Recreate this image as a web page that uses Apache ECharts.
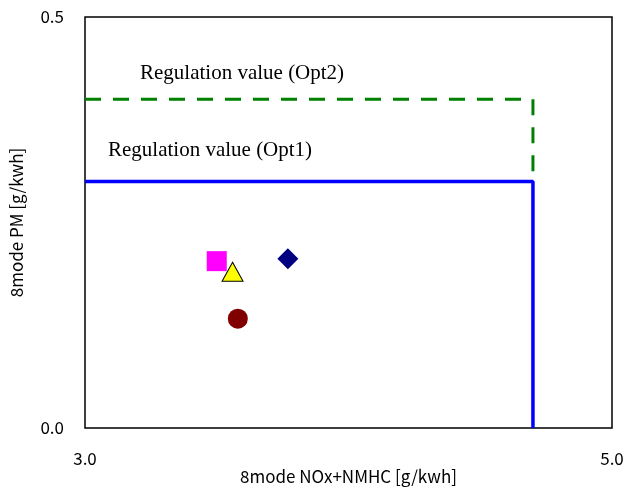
<!DOCTYPE html>
<html>
<head>
<meta charset="utf-8">
<script src="https://cdn.jsdelivr.net/npm/echarts@6/dist/echarts.min.js"></script>
<style>
  html, body { margin: 0; padding: 0; background: #fff; }
  #chart { width: 623px; height: 488px; }
</style>
</head>
<body>
<div id="chart"></div>
<script>
// --- data ---
const xTicks = [3.0, 5.0];
const yTicks = [0.0, 0.5];

// regulation limits (NOx+NMHC, PM)
const opt1Line = [[3.0, 0.30], [4.7, 0.30], [4.7, 0.0]];
const opt2Line = [[3.0, 0.40], [4.7, 0.40], [4.7, 0.30]];

// measured points
const squarePts = [[3.50, 0.203]];
const trianglePts = [[3.56, 0.190]];
const diamondPts = [[3.77, 0.206]];
const circlePts = [[3.58, 0.133]];

const axisFont = '"Noto Sans CJK JP", "DejaVu Sans", sans-serif';
const serifFont = '"Liberation Serif", "DejaVu Serif", serif';

let chart = echarts.init(document.getElementById('chart'), null, { renderer: 'canvas' });

let option = {
    animation: false,
    backgroundColor: '#fff',
    grid: {
        left: 85, right: 11, top: 17, bottom: 60,
        outerBoundsMode: 'none',
        show: true, borderColor: '#000', borderWidth: 1.5, backgroundColor: 'transparent'
    },
    xAxis: {
        type: 'value', min: 3, max: 5,
        name: '8mode NOx+NMHC [g/kwh]', nameLocation: 'middle', nameGap: 40,
        nameMoveOverlap: false,
        nameTextStyle: { color: '#000', fontSize: 17, fontFamily: axisFont },
        axisLine: { show: false }, axisTick: { show: false }, splitLine: { show: false },
        axisLabel: {
            customValues: xTicks, margin: 22, color: '#000', fontSize: 17, fontFamily: axisFont,
            formatter: v => v.toFixed(1)
        }
    },
    yAxis: {
        type: 'value', min: 0, max: 0.5, interval: 0.5,
        name: '8mode PM [g/kwh]', nameLocation: 'middle', nameGap: 60,
        nameMoveOverlap: false,
        nameTextStyle: { color: '#000', fontSize: 17, fontFamily: axisFont },
        axisLine: { show: false }, axisTick: { show: false }, splitLine: { show: false },
        axisLabel: {
            customValues: yTicks, margin: 21, color: '#000', fontSize: 17, fontFamily: axisFont,
            formatter: v => v.toFixed(1)
        }
    },
    series: [
        {
            type: 'line', data: opt2Line, symbol: 'none', z: 3,
            lineStyle: { color: '#008000', width: 3, type: [16, 12] }
        },
        {
            type: 'line', data: opt1Line, symbol: 'none', z: 4,
            lineStyle: { color: '#0000FF', width: 3.5 }
        },
        {
            type: 'scatter', data: squarePts, symbol: 'rect', symbolSize: 20, z: 5,
            itemStyle: { color: '#FF00FF', opacity: 1 }
        },
        {
            type: 'scatter', data: trianglePts, symbol: 'triangle', symbolSize: [21, 19], z: 6,
            itemStyle: { color: '#FFFF00', borderColor: '#000', borderWidth: 1, opacity: 1 }
        },
        {
            type: 'scatter', data: diamondPts, symbol: 'diamond', symbolSize: [21, 21], z: 5,
            itemStyle: { color: '#000080', opacity: 1 }
        },
        {
            type: 'scatter', data: circlePts, symbol: 'circle', symbolSize: 20, z: 5,
            itemStyle: { color: '#800000', opacity: 1 }
        }
    ],
    graphic: [
        {
            type: 'text', left: 140, top: 63, z: 10,
            style: { text: 'Regulation value (Opt2)', fill: '#000', fontSize: 21, fontFamily: serifFont }
        },
        {
            type: 'text', left: 108, top: 140, z: 10,
            style: { text: 'Regulation value (Opt1)', fill: '#000', fontSize: 21, fontFamily: serifFont }
        }
    ]
};

chart.setOption(option);
</script>
</body>
</html>
